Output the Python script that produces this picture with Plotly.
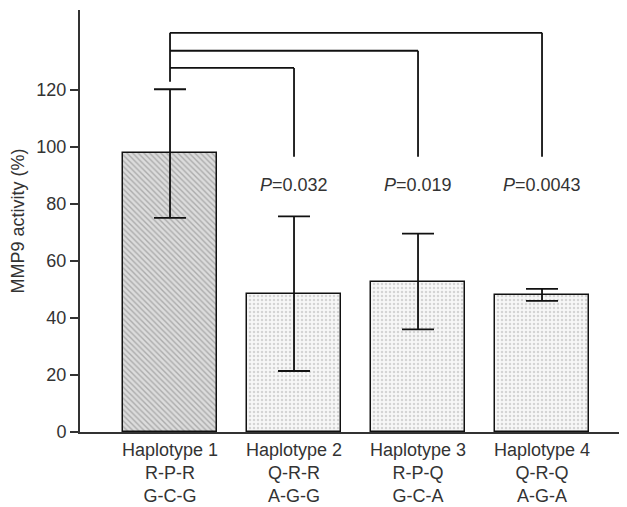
import plotly.graph_objects as go

categories = ["Haplotype 1<br>R-P-R<br>G-C-G", "Haplotype 2<br>Q-R-R<br>A-G-G",
              "Haplotype 3<br>R-P-Q<br>G-C-A", "Haplotype 4<br>Q-R-Q<br>A-G-A"]
means = [97.9, 48.4, 52.6, 48.0]
err_plus = [22.3, 27.2, 17.0, 2.2]
err_minus = [22.8, 27.0, 16.6, 2.0]
p_labels = ["", "<i>P</i>=0.032", "<i>P</i>=0.019", "<i>P</i>=0.0043"]
bracket_heights = [127.7, 133.7, 140.0]
bracket_bottom = 96.5
bracket_left_bottom = 122.8

xs = list(range(len(categories)))
font = "Liberation Sans, Arial, sans-serif"

fig = go.Figure()
fig.add_trace(go.Bar(
    x=xs[:1], y=means[:1], width=0.758,
    marker=dict(color="#d0d0d0", line=dict(color="#111", width=1.5),
                pattern=dict(shape="\\", fgcolor="#7a7a7a", bgcolor="#dcdcdc", size=4, solidity=0.35)),
    error_y=dict(type="data", array=err_plus[:1], arrayminus=err_minus[:1],
                 color="#111", thickness=1.8, width=16),
    showlegend=False,
))
fig.add_trace(go.Bar(
    x=xs[1:], y=means[1:], width=0.758,
    marker=dict(color="#f4f4f4", line=dict(color="#111", width=1.5),
                pattern=dict(shape=".", fgcolor="#b0b0b0", bgcolor="#f7f7f7", size=4, solidity=0.3)),
    error_y=dict(type="data", array=err_plus[1:], arrayminus=err_minus[1:],
                 color="#111", thickness=1.8, width=16),
    showlegend=False,
))

shapes = []
line = dict(color="#111", width=1.8)
shapes.append(dict(type="line", xref="x", yref="y", x0=0, x1=0,
                   y0=bracket_left_bottom, y1=max(bracket_heights), line=line))
for i, h in enumerate(bracket_heights):
    j = i + 1
    shapes.append(dict(type="line", xref="x", yref="y", x0=0, x1=j, y0=h, y1=h, line=line))
    shapes.append(dict(type="line", xref="x", yref="y", x0=j, x1=j, y0=bracket_bottom, y1=h, line=line))

annotations = []
for i, t in enumerate(p_labels):
    if t:
        annotations.append(dict(x=i, y=86.7, xref="x", yref="y", text=t, showarrow=False,
                                font=dict(size=18, color="#333", family=font)))

fig.update_layout(
    width=619, height=499,
    margin=dict(l=72, r=5, t=2, b=75),
    paper_bgcolor="white", plot_bgcolor="white",
    shapes=shapes, annotations=annotations,
    font=dict(family=font, size=18, color="#333"),
    bargap=0,
)
fig.update_xaxes(range=[-0.726, 3.645], tickvals=xs, ticktext=categories,
                 showline=True, linecolor="#333", linewidth=2, ticks="",
                 showgrid=False, zeroline=False, automargin=False,
                 tickfont=dict(size=18, color="#333"))
fig.update_yaxes(range=[0, 148], tickvals=[0, 20, 40, 60, 80, 100, 120],
                 showline=True, linecolor="#333", linewidth=2, ticks="outside",
                 ticklen=8, tickwidth=1.5, tickcolor="#333", showgrid=False, zeroline=False,
                 automargin=False,
                 title=dict(text="MMP9 activity (%)", standoff=8, font=dict(size=18, color="#333")),
                 tickfont=dict(size=18, color="#333"))

fig.write_html("out.html")
